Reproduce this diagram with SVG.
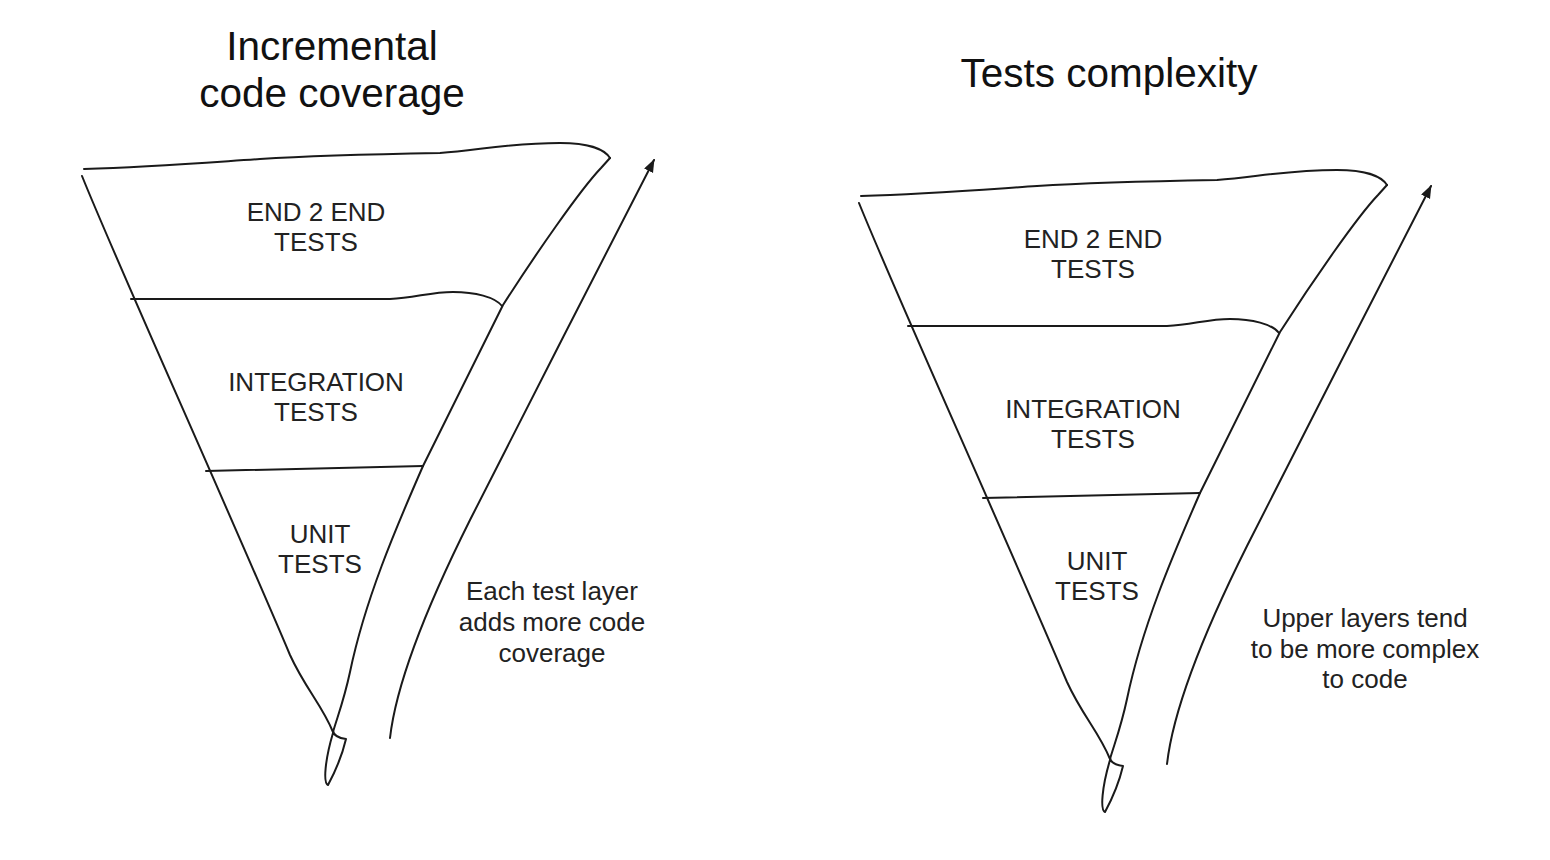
<svg xmlns="http://www.w3.org/2000/svg" width="1550" height="860" viewBox="0 0 1550 860">
<style>
  .ln { fill: none; stroke: #1a1a1a; stroke-width: 2; stroke-linecap: round; stroke-linejoin: round; }
  .lbl { font-family: "Liberation Sans", Arial, sans-serif; font-size: 26px; fill: #222; text-anchor: middle; }
  .ttl { font-family: "Liberation Sans", Arial, sans-serif; font-size: 40.5px; fill: #111; text-anchor: middle; }
</style>
<defs>
  <marker id="head" markerWidth="14" markerHeight="12" refX="12" refY="5" orient="auto" markerUnits="userSpaceOnUse">
    <path d="M0,0 L13,5 L0,10 Z" fill="#1a1a1a"/>
  </marker>
  <g id="outline">
    <path class="ln" d="M84,169 C150,167 200,163 260,159 C320,155 380,154 440,153 C480,150 510,143 560,143 C590,143 605,150 610,158"/>
    <path class="ln" d="M82,176 C120,270 220,490 290,655 C305,688 322,705 333,732"/>
    <path class="ln" d="M610,158 L601,168 C580,190 535,255 503,305 L423,466 C395,530 365,600 350,672 C344,700 338,715 333,732"/>
    <path class="ln" d="M333,731 C334,736 338,738 346,739 C342,756 335,772 328,785 C323,783 325,760 333,733"/>
  </g>
  <g id="div1"><path class="ln" d="M131,299 L390,299 C415,298 430,292 453,292 C475,292 495,297 502,306"/></g>
  <g id="div2"><path class="ln" d="M206,471 L423,466"/></g>
  <path id="arr" class="ln" d="M390,738 C396,685 425,610 470,520 C520,420 602,262 654,160" marker-end="url(#head)"/>
</defs>

<g id="title-left">
  <text class="ttl" x="332" y="60">Incremental</text>
  <text class="ttl" x="332" y="107">code coverage</text>
</g>
<g id="title-right">
  <text class="ttl" x="1109" y="87">Tests complexity</text>
</g>

<g id="funnel-left">
  <use href="#outline"/>
  <use href="#div1"/>
  <use href="#div2"/>
</g>
<g id="funnel-right" transform="translate(777,27)">
  <use href="#outline"/>
  <use href="#div1"/>
  <use href="#div2"/>
</g>

<g id="left-e2e"><text class="lbl" x="316" y="221">END 2 END</text><text class="lbl" x="316" y="251">TESTS</text></g>
<g id="left-integration"><text class="lbl" x="316" y="391">INTEGRATION</text><text class="lbl" x="316" y="421">TESTS</text></g>
<g id="left-unit"><text class="lbl" x="320" y="543">UNIT</text><text class="lbl" x="320" y="573">TESTS</text></g>

<g id="right-e2e"><text class="lbl" x="1093" y="248">END 2 END</text><text class="lbl" x="1093" y="278">TESTS</text></g>
<g id="right-integration"><text class="lbl" x="1093" y="418">INTEGRATION</text><text class="lbl" x="1093" y="448">TESTS</text></g>
<g id="right-unit"><text class="lbl" x="1097" y="570">UNIT</text><text class="lbl" x="1097" y="600">TESTS</text></g>

<g id="note-left">
  <text class="lbl" x="552" y="600">Each test layer</text>
  <text class="lbl" x="552" y="631">adds more code</text>
  <text class="lbl" x="552" y="662">coverage</text>
</g>
<g id="note-right">
  <text class="lbl" x="1365" y="627">Upper layers tend</text>
  <text class="lbl" x="1365" y="658">to be more complex</text>
  <text class="lbl" x="1365" y="688">to code</text>
</g>

<g id="connectors">
  <use href="#arr"/>
  <use href="#arr" transform="translate(777,26)"/>
</g>
</svg>
